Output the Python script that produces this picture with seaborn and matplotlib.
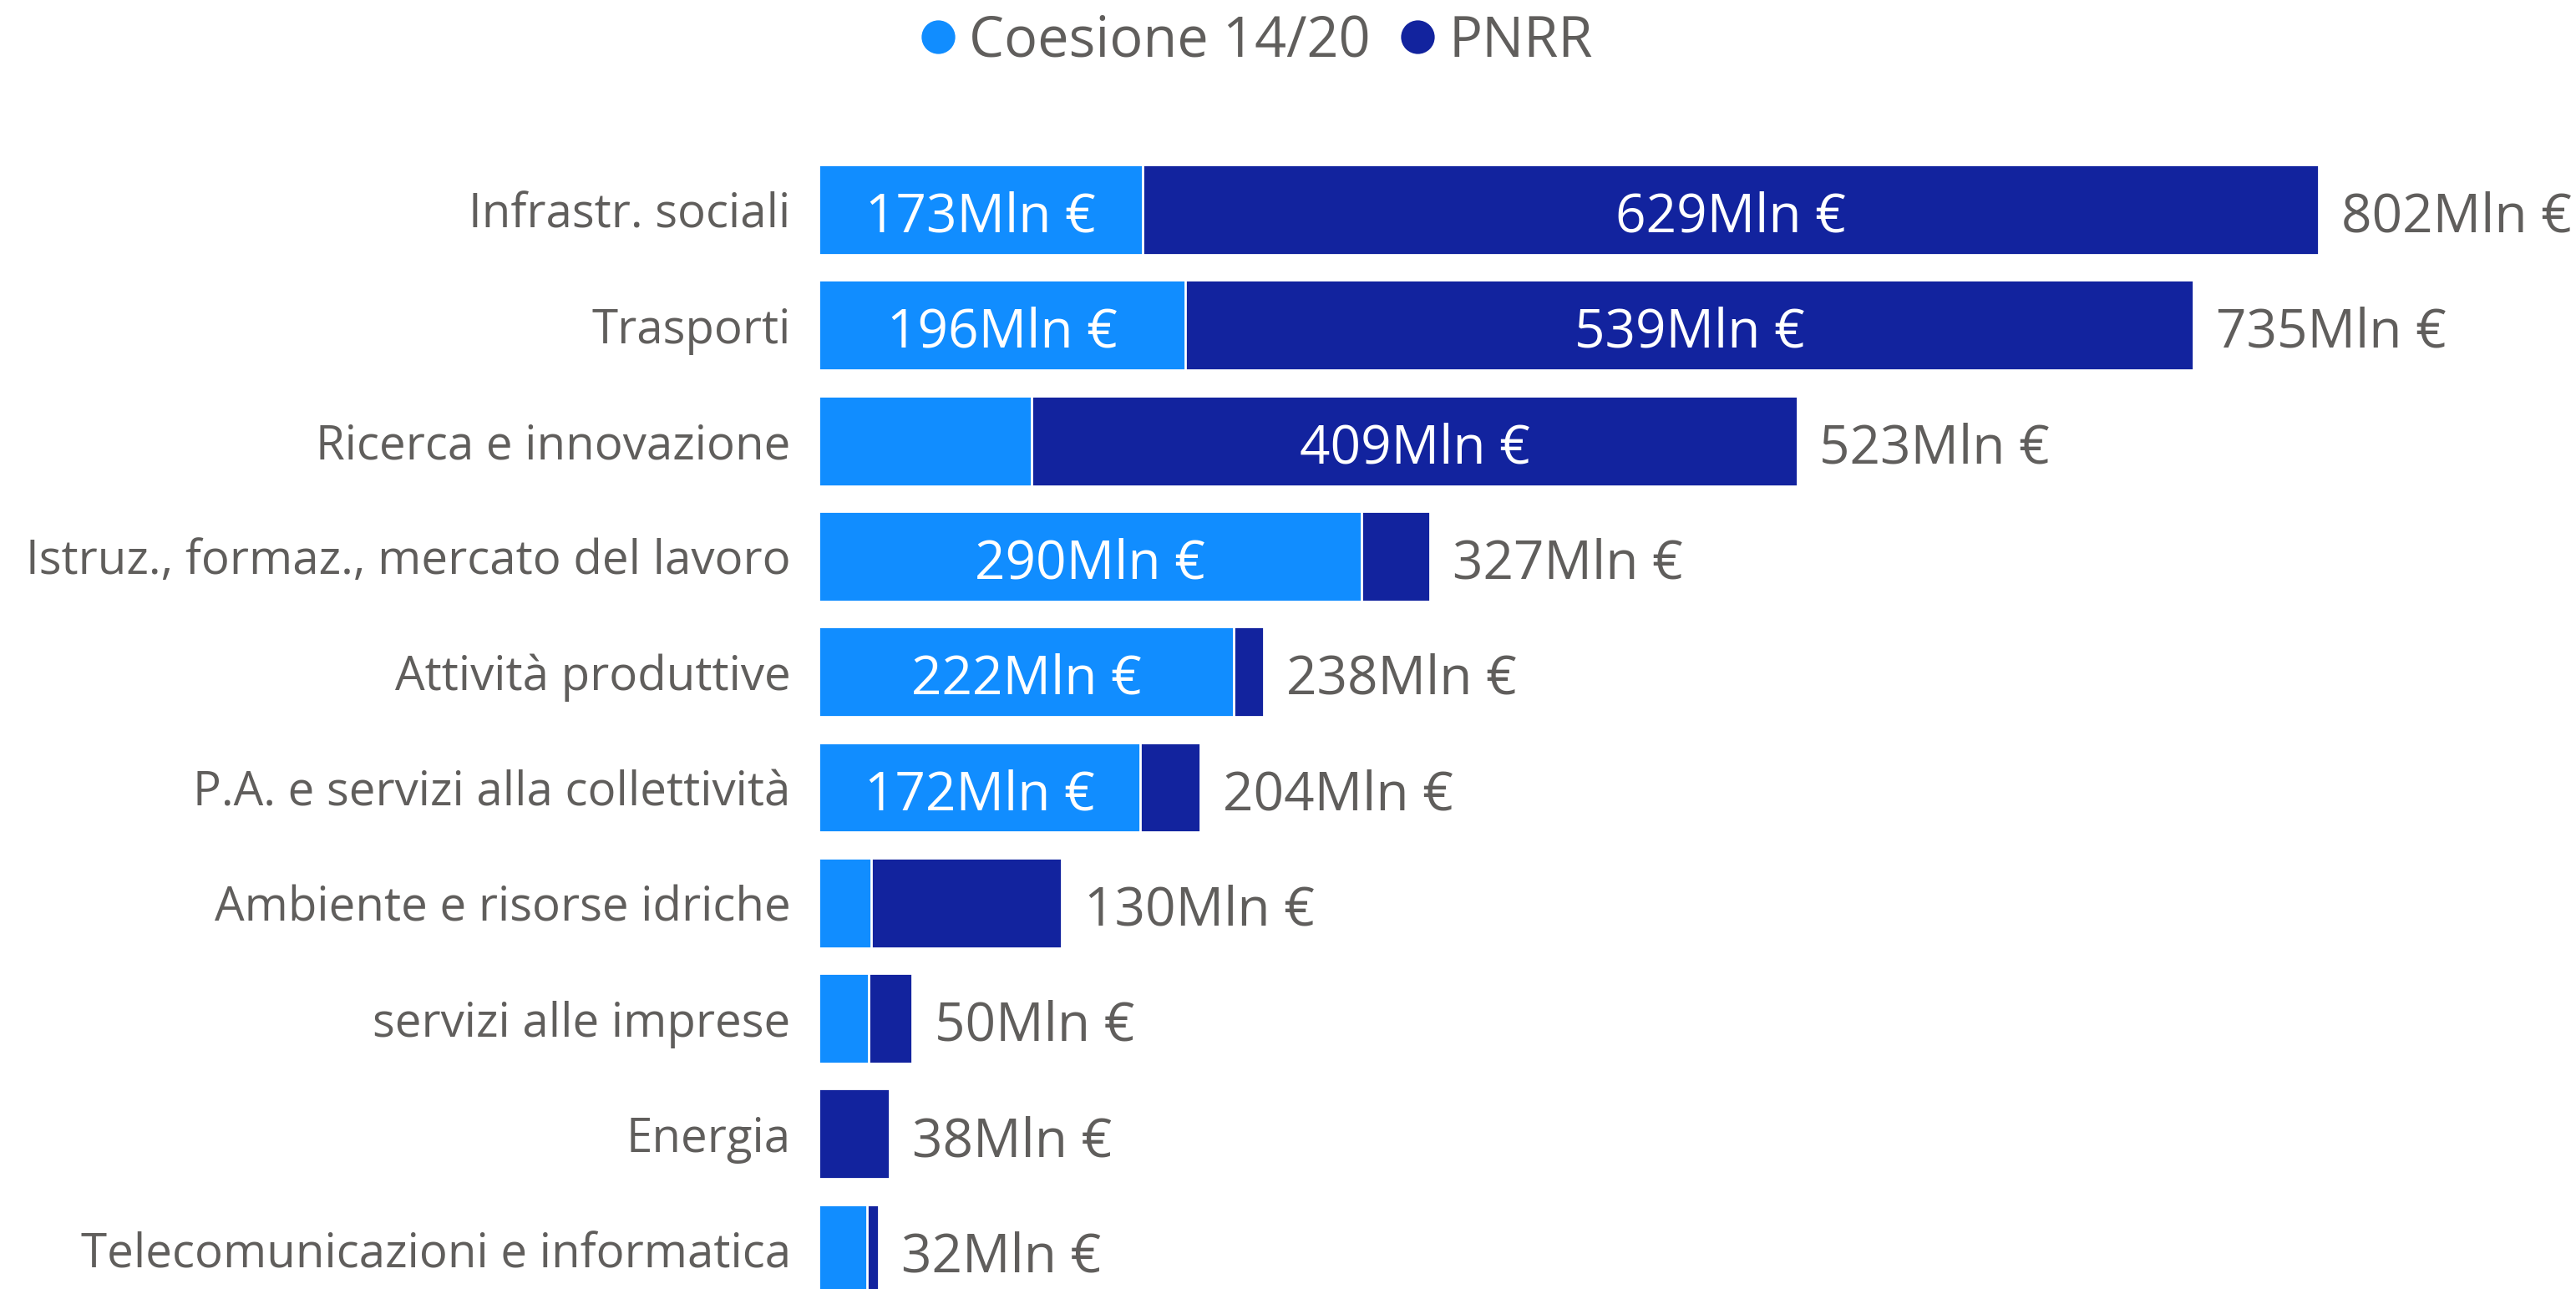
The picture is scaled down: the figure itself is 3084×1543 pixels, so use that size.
import matplotlib
matplotlib.use("Agg")
import matplotlib.pyplot as plt
from matplotlib.lines import Line2D
import seaborn as sns
import pandas as pd
import numpy as np

# data (Mln €)
categories = [
    "Infrastr. sociali",
    "Trasporti",
    "Ricerca e innovazione",
    "Istruz., formaz., mercato del lavoro",
    "Attività produttive",
    "P.A. e servizi alla collettività",
    "Ambiente e risorse idriche",
    "servizi alle imprese",
    "Energia",
    "Telecomunicazioni e informatica",
]
coesione = [173, 196, 114, 290, 222, 172, 28, 27, 0, 26]
pnrr = [629, 539, 409, 37, 16, 32, 102, 23, 38, 6]

df = pd.DataFrame({"cat": categories, "coesione": coesione, "pnrr": pnrr})
df["totale"] = df["coesione"] + df["pnrr"]

light = "#118DFF"
dark = "#12239E"
grey = "#605E5C"

sns.set_style("white")
plt.rcParams["font.family"] = ["Open Sans", "DejaVu Sans"]

W, H, DPI = 3084, 1543, 200
fig = plt.figure(figsize=(W / DPI, H / DPI), dpi=DPI)
x0 = 980 / W
ax = fig.add_axes([x0, 0, 1 - x0, 1])

# total bar in PNRR colour, coesione drawn over it
sns.barplot(data=df, y="cat", x="totale", color=dark, width=0.78,
            orient="h", ax=ax, saturation=1)
sns.barplot(data=df, y="cat", x="coesione", color=light, width=0.78,
            orient="h", ax=ax, saturation=1)

px_per_unit = 2.24
row_px = 138.3
top_px = 251
ax.set_xlim(0, (W - 980) / px_per_unit)
ax.set_ylim((H - top_px) / row_px, -top_px / row_px)

dy = 0.07  # value labels sit a touch below the bar centre
for i, row in df.iterrows():
    if row["coesione"] >= 150:
        ax.text(row["coesione"] / 2, i + dy, f"{row['coesione']}Mln €",
                ha="center", va="center", color="white", fontsize=23)
    if row["pnrr"] >= 150:
        ax.text(row["coesione"] + row["pnrr"] / 2, i + dy, f"{row['pnrr']}Mln €",
                ha="center", va="center", color="white", fontsize=23)
    ax.text(row["totale"] + 12, i + dy, f"{row['totale']}Mln €",
            ha="left", va="center", color=grey, fontsize=23)

ax.set_xlabel("")
ax.set_ylabel("")
ax.set_xticks([])
ax.tick_params(axis="y", length=0, pad=12, labelsize=20.3, labelcolor=grey)
sns.despine(ax=ax, left=True, bottom=True)

handles = [
    Line2D([], [], marker="o", linestyle="", color=light, markersize=13.5),
    Line2D([], [], marker="o", linestyle="", color=dark, markersize=13.5),
]
fig.legend(handles, ["Coesione 14/20", "PNRR"], loc="center",
           bbox_to_anchor=(1500 / W, 1 - 50 / H), ncol=2, frameon=False,
           fontsize=24, labelcolor=grey, handletextpad=0.1,
           columnspacing=0.4, handlelength=0.9)

fig.savefig("out.png", dpi=DPI)
